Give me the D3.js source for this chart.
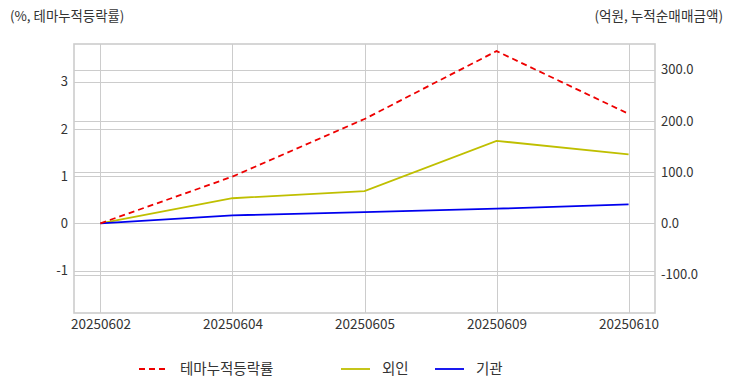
<!DOCTYPE html>
<html><head><meta charset="utf-8">
<script src="https://cdn.jsdelivr.net/npm/d3@7/dist/d3.min.js"></script>
<style>
body{margin:0;background:#fff;}
text{font-family:"Noto Sans CJK KR","Noto Sans",sans-serif;}
</style></head>
<body>
<svg id="c" width="732" height="392"></svg>
<script>
const categories = ["20250602","20250604","20250605","20250609","20250610"];
const themeReturn = [0, 0.99, 2.21, 3.65, 2.32];
const foreign = [0, 49, 63, 161, 134.5];
const institution = [0, 15.6, 22, 28.6, 37];
const leftTicks = [-1, 0, 1, 2, 3];
const rightTicks = [-100, 0, 100, 200, 300];
const leftTitle = "(%, 테마누적등락률)";
const rightTitle = "(억원, 누적순매매금액)";
const seriesNames = ["테마누적등락률", "외인", "기관"];

const svg = d3.select("#c");
const L = 74, R = 655, T = 44, B = 313;
const x = d3.scalePoint().domain(categories).range([L, R]).padding(0.2);
const yL = d3.scaleLinear().domain([-1.9, 3.8]).range([B, T]);
const yR = d3.scaleLinear().domain([-175, 350]).range([B, T]);
const grid = "#cccccc";
const txt = "#333333";

// grid
const g = svg.append("g");
g.selectAll(".gl").data(leftTicks).enter().append("line")
  .attr("x1", L).attr("x2", R).attr("y1", d => Math.round(yL(d)) + 0.5).attr("y2", d => Math.round(yL(d)) + 0.5)
  .attr("stroke", grid).attr("stroke-width", 1);
g.selectAll(".gr").data(rightTicks).enter().append("line")
  .attr("x1", L).attr("x2", R).attr("y1", d => Math.round(yR(d)) + 0.5).attr("y2", d => Math.round(yR(d)) + 0.5)
  .attr("stroke", grid).attr("stroke-width", 1);
g.selectAll(".gx").data(categories).enter().append("line")
  .attr("x1", d => Math.round(x(d)) + 0.5).attr("x2", d => Math.round(x(d)) + 0.5).attr("y1", T).attr("y2", B)
  .attr("stroke", grid).attr("stroke-width", 1);
svg.append("rect").attr("x", L).attr("y", T).attr("width", R - L).attr("height", B - T)
  .attr("fill", "none").attr("stroke", grid).attr("stroke-width", 1.6);

// axes
const axL = svg.append("g").attr("transform", `translate(${L},0)`)
  .call(d3.axisLeft(yL).tickValues(leftTicks).tickSize(0).tickPadding(6).tickFormat(d => String(d)));
const axR = svg.append("g").attr("transform", `translate(${R},0)`)
  .call(d3.axisRight(yR).tickValues(rightTicks).tickSize(0).tickPadding(6).tickFormat(d => (d < 0 ? "-" : "") + Math.abs(d).toFixed(1)));
const axB = svg.append("g").attr("transform", `translate(0,${B})`)
  .call(d3.axisBottom(x).tickSize(0).tickPadding(6));
[axL, axR, axB].forEach(a => {
  a.select(".domain").remove();
  a.selectAll("text").attr("fill", txt).style("font-size", "13px").style("font-family", '"Noto Sans CJK KR","Noto Sans",sans-serif');
});
axB.selectAll("text").style("font-size", "13.5px");

// titles
svg.append("text").attr("x", 10).attr("y", 21).text(leftTitle).attr("fill", txt).style("font-size", "13.4px");
svg.append("text").attr("x", 723).attr("y", 21).attr("text-anchor", "end").text(rightTitle).attr("fill", txt).style("font-size", "13.6px");

// lines
const lineL = d3.line().x((d, i) => x(categories[i])).y(d => yL(d));
const lineR = d3.line().x((d, i) => x(categories[i])).y(d => yR(d));
svg.append("path").datum(foreign).attr("d", lineR).attr("fill", "none").attr("stroke", "#bfbf00").attr("stroke-width", 1.8);
svg.append("path").datum(institution).attr("d", lineR).attr("fill", "none").attr("stroke", "#0000ee").attr("stroke-width", 1.8);
svg.append("path").datum(themeReturn).attr("d", lineL).attr("fill", "none").attr("stroke", "#ee0000").attr("stroke-width", 1.8).attr("stroke-dasharray", "6,4");

// legend
const legend = [
  {name: seriesNames[0], color: "#ee0000", dash: "6,4", x: 139},
  {name: seriesNames[1], color: "#bfbf00", dash: null, x: 341},
  {name: seriesNames[2], color: "#0000ee", dash: null, x: 435}
];
const lg = svg.append("g");
legend.forEach(d => {
  lg.append("line").attr("x1", d.x).attr("x2", d.x + 29).attr("y1", 369).attr("y2", 369)
    .attr("stroke", d.color).attr("stroke-width", 1.8).attr("stroke-dasharray", d.dash);
  lg.append("text").attr("x", d.x + 41).attr("y", 374).text(d.name).attr("fill", txt).style("font-size", "14.5px");
});
</script>
</body></html>
